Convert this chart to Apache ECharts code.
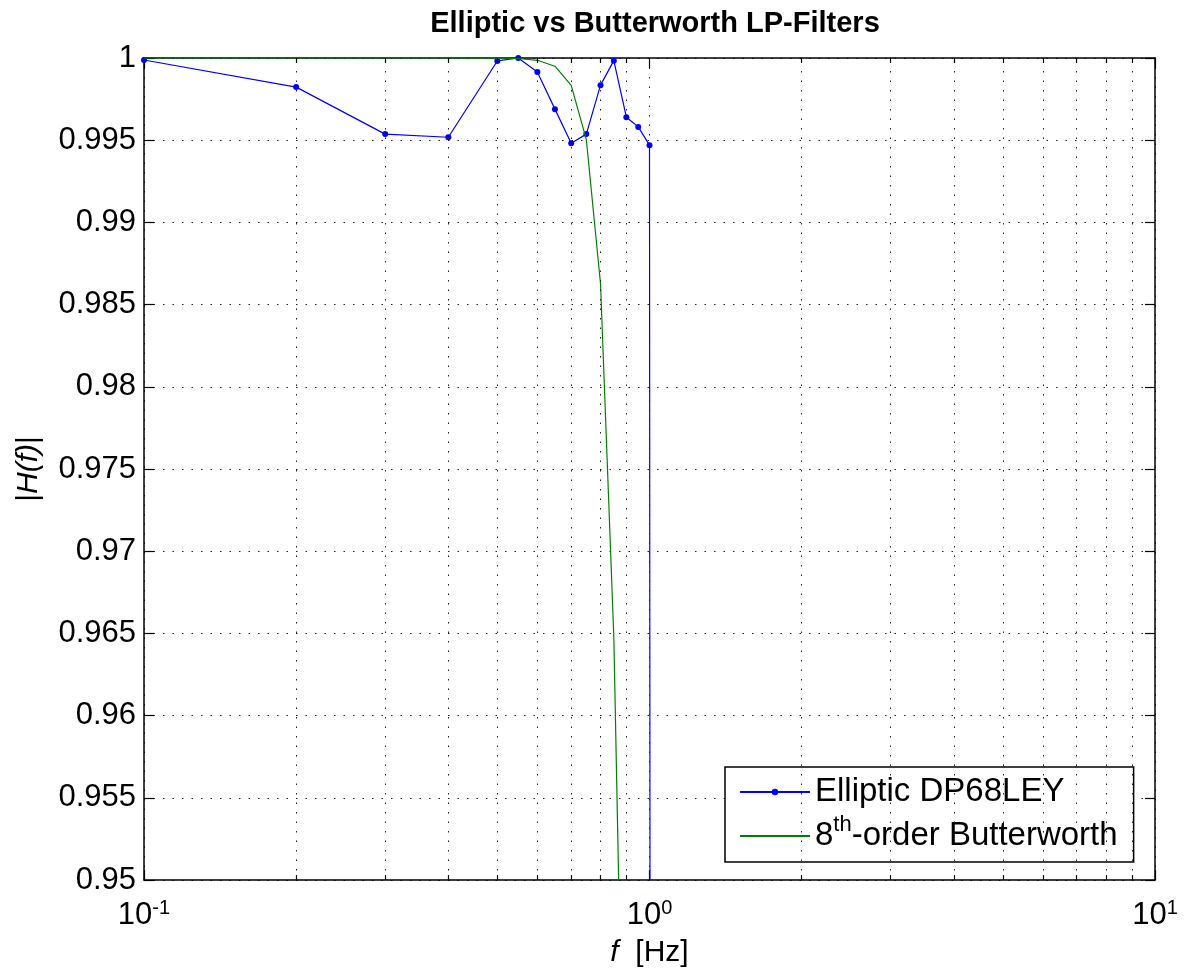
<!DOCTYPE html>
<html>
<head>
<meta charset="utf-8">
<script src="https://cdn.jsdelivr.net/npm/echarts@6/dist/echarts.min.js"></script>
<style>
  html, body { margin: 0; padding: 0; background: #fff; }
  #chart { width: 1184px; height: 969px; }
</style>
</head>
<body>
<div id="chart"></div>
<script>
// frequencies [Hz]
var freqs = [0.1, 0.2, 0.3, 0.4, 0.5, 0.55, 0.6, 0.65, 0.7, 0.75, 0.8, 0.85, 0.9, 0.95, 1.0, 1.05];
// |H(f)|
var elliptic = [0.99988, 0.99823, 0.99537, 0.99518, 0.99982, 1.0, 0.99915, 0.99689, 0.99482, 0.99537, 0.99835, 0.99984, 0.9964, 0.99581, 0.9947, 0.02];
var butter = [1.0, 1.0, 1.0, 1.0, 0.99999, 0.99997, 0.99986, 0.9995, 0.99834, 0.99503, 0.98628, 0.9648, 0.9264, 0.833, 0.707, 0.56];
var seriesNames = ['Elliptic DP68LEY', '8th-order Butterworth'];
// minor log ticks
var minorX = [0.2, 0.3, 0.4, 0.5, 0.6, 0.7, 0.8, 0.9, 2, 3, 4, 5, 6, 7, 8, 9];

var font = 'Liberation Sans, Arial, Helvetica, sans-serif';
var yMin = 0.95, yMax = 1, yStep = 0.005;

var myChart = echarts.init(document.getElementById('chart'));

// dotted minor grid + short minor ticks on top/bottom edges
var gridMarks = minorX.map(function (v) { return { xAxis: v }; });
var tickMarks = [];
minorX.forEach(function (v) {
	tickMarks.push([{ coord: [v, yMin], lineStyle: { type: 'solid', color: '#000', width: 1.2 } }, { coord: [v, yMin + 0.0003] }]);
	tickMarks.push([{ coord: [v, yMax], lineStyle: { type: 'solid', color: '#000', width: 1.2 } }, { coord: [v, yMax - 0.0003] }]);
});

var dotted = { type: [1.5, 8], color: '#222', width: 1 };

var option = {
	animation: false,
	backgroundColor: '#fff',
	textStyle: { fontFamily: font },
	title: {
		text: 'Elliptic vs Butterworth LP-Filters',
		left: 650,
		textAlign: 'center',
		top: 4,
		textStyle: { fontFamily: font, fontSize: 29, fontWeight: 'bold', color: '#000' }
	},
	grid: { left: 144, right: 29, top: 58, bottom: 89, containLabel: false, outerBoundsMode: 'none' },
	legend: {
		orient: 'vertical',
		left: 725,
		top: 767,
		backgroundColor: '#fff',
		borderColor: '#000',
		borderWidth: 1.5,
		borderRadius: 0,
		padding: [3, 16, 4, 14],
		itemGap: 0,
		itemWidth: 70,
		itemHeight: 8,
		data: [
			{ name: seriesNames[0] },
			{ name: seriesNames[1], itemStyle: { opacity: 0 } }
		],
		formatter: function (name) {
			return name === seriesNames[1] ? '8{s|th}-order Butterworth' : name;
		},
		textStyle: {
			fontFamily: font, fontSize: 33, color: '#000', lineHeight: 44,
			rich: {
				s: { fontFamily: font, fontSize: 22, verticalAlign: 'top', color: '#000' }
			}
		}
	},
	xAxis: [{
		type: 'log',
		logBase: 10,
		min: 0.1,
		max: 10,
		name: '{i|f}  [Hz]',
		nameLocation: 'middle',
		nameGap: 58,
		nameTextStyle: {
			fontFamily: font, fontSize: 30, color: '#000',
			rich: { i: { fontFamily: font, fontSize: 30, fontStyle: 'italic', color: '#000' } }
		},
		axisLine: { lineStyle: { color: '#000', width: 1.5 } },
		axisTick: { inside: true, length: 10, lineStyle: { color: '#000', width: 1.2 } },
		axisLabel: {
			margin: 18,
			color: '#000',
			formatter: function (v) {
				return '{b|10}{s|' + Math.round(Math.log10(v)) + '}';
			},
			rich: {
				b: { fontFamily: font, fontSize: 31, color: '#000' },
				s: { fontFamily: font, fontSize: 20, color: '#000', verticalAlign: 'top', padding: [0, 0, 14, 0] }
			}
		},
		splitLine: { show: true, lineStyle: dotted }
	}, {
		type: 'log',
		logBase: 10,
		min: 0.1,
		max: 10,
		position: 'top',
		axisLine: { lineStyle: { color: '#000', width: 1.5 } },
		axisTick: { inside: true, length: 10, lineStyle: { color: '#000', width: 1.2 } },
		axisLabel: { show: false },
		splitLine: { show: false }
	}],
	yAxis: [{
		type: 'value',
		min: yMin,
		max: yMax,
		interval: yStep,
		name: '|{i|H(f)}|',
		nameLocation: 'middle',
		nameRotate: 90,
		nameGap: 100,
		nameTextStyle: {
			fontFamily: font, fontSize: 30, color: '#000',
			rich: { i: { fontFamily: font, fontSize: 30, fontStyle: 'italic', color: '#000' } }
		},
		axisLine: { show: true, lineStyle: { color: '#000', width: 1.5 } },
		axisTick: { show: true, inside: true, length: 10, lineStyle: { color: '#000', width: 1.2 } },
		axisLabel: { margin: 8, color: '#000', fontFamily: font, fontSize: 31 },
		splitLine: { show: true, lineStyle: dotted }
	}, {
		type: 'value',
		min: yMin,
		max: yMax,
		interval: yStep,
		position: 'right',
		axisLine: { show: true, lineStyle: { color: '#000', width: 1.5 } },
		axisTick: { show: true, inside: true, length: 10, lineStyle: { color: '#000', width: 1.2 } },
		axisLabel: { show: false },
		splitLine: { show: false }
	}],
	series: [{
		name: 'minor',
		type: 'line',
		xAxisIndex: 0,
		yAxisIndex: 0,
		data: [],
		z: 1,
		silent: true,
		markLine: {
			silent: true,
			symbol: ['none', 'none'],
			label: { show: false },
			lineStyle: dotted,
			data: gridMarks.concat(tickMarks)
		}
	}, {
		name: seriesNames[0],
		type: 'line',
		data: freqs.map(function (f, i) { return [f, elliptic[i]]; }),
		symbol: 'circle',
		symbolSize: 6,
		clip: true,
		color: '#0000ff',
		lineStyle: { color: '#0000ff', width: 1.2 },
		itemStyle: { color: '#0000ff' },
		z: 3
	}, {
		name: seriesNames[1],
		type: 'line',
		data: freqs.map(function (f, i) { return [f, butter[i]]; }),
		symbol: 'none',
		clip: true,
		color: '#008000',
		lineStyle: { color: '#008000', width: 1.2 },
		itemStyle: { color: '#008000' },
		z: 4
	}]
};

myChart.setOption(option);
</script>
</body>
</html>
